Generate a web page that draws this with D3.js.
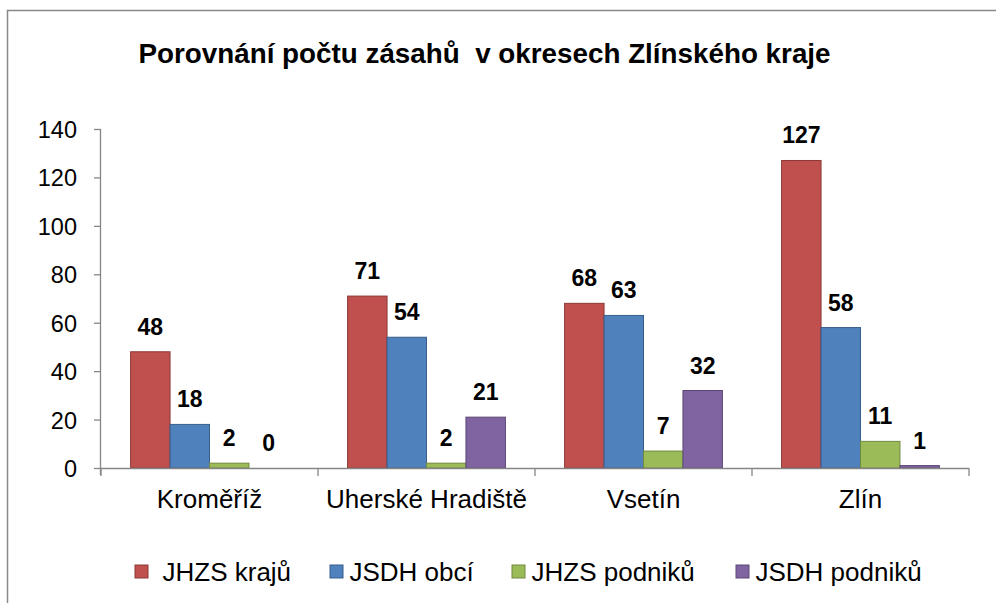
<!DOCTYPE html>
<html><head><meta charset="utf-8">
<script src="https://cdn.jsdelivr.net/npm/d3@7"></script>
<style>body{margin:0;background:#fff}svg{display:block}text{font-family:"Liberation Sans",Arial,sans-serif}</style>
</head><body>
<svg id="c" width="996" height="603"></svg>
<script>
const categories = ["Kroměříž", "Uherské Hradiště", "Vsetín", "Zlín"];
const seriesNames = ["JHZS krajů", "JSDH obcí", "JHZS podniků", "JSDH podniků"];
const jhzsKraju = [48, 71, 68, 127];
const jsdhObci = [18, 54, 63, 58];
const jhzsPodniku = [2, 2, 7, 11];
const jsdhPodniku = [0, 21, 32, 1];
const yTicks = [0, 20, 40, 60, 80, 100, 120, 140];
const fills = ["#C0504D", "#4F81BD", "#9BBB59", "#8064A2"];
const strokes = ["#8C3836", "#385E8B", "#71893F", "#5C4776"];
const title = "Porovnání počtu zásahů  v okresech Zlínského kraje";

const series = [jhzsKraju, jsdhObci, jhzsPodniku, jsdhPodniku];
const svg = d3.select("#c");
const FF = "'Liberation Sans', Arial, sans-serif";

// outer frame
svg.append("rect").attr("x", 7.5).attr("y", 10.5).attr("width", 1200).attr("height", 800)
  .attr("fill", "none").attr("stroke", "#898989").attr("stroke-width", 1.5);

const L = 101, R = 969, T = 129, B = 468;
const x = d3.scaleBand().domain(categories).range([L, R]).padding(0);
const y = d3.scaleLinear().domain([0, 140]).range([B, T]);
const bw = x.bandwidth() / 5.5;
const xs = d3.scaleBand().domain(d3.range(4)).range([0.75 * bw, 4.75 * bw]).padding(0);

svg.append("text").attr("x", 484.5).attr("y", 63).attr("text-anchor", "middle")
  .attr("font-size", 27.8).attr("font-weight", "bold").attr("fill", "#000")
  .style("white-space", "pre").attr("xml:space", "preserve").text(title);

// y axis
const ya = svg.append("g").attr("transform", `translate(${L},0)`)
  .call(d3.axisLeft(y).tickValues(yTicks).tickSize(7).tickPadding(17).tickFormat(d3.format("d")));
ya.select(".domain").attr("stroke", "#868686").attr("stroke-width", 1.3).attr("d", `M-0.5,${B + 7}V${T}`);
ya.selectAll(".tick line").attr("stroke", "#868686").attr("stroke-width", 1.3);
ya.selectAll(".tick text").attr("font-size", 23.5).attr("fill", "#000").attr("font-family", FF)
  .attr("dy", "0.36em");

// bars
categories.forEach((c, ci) => {
  series.forEach((s, si) => {
    const v = s[ci];
    const bx = x(c) + xs(si);
    svg.append("rect").attr("x", bx).attr("y", y(v)).attr("width", xs.bandwidth())
      .attr("height", B - y(v)).attr("fill", fills[si]).attr("stroke", strokes[si]).attr("stroke-width", 1);
    svg.append("text").attr("x", bx + xs.bandwidth() / 2).attr("y", y(v) - 17)
      .attr("text-anchor", "middle").attr("font-size", 23).attr("font-weight", "bold")
      .attr("fill", "#000").text(v);
  });
});

// x axis
const xa = svg.append("g").attr("transform", `translate(0,${B})`)
  .call(d3.axisBottom(x).tickSize(0));
xa.select(".domain").attr("stroke", "#868686").attr("stroke-width", 1.3).attr("d", `M${L},0.5H${R}`);
xa.selectAll(".tick text").attr("font-size", 26).attr("fill", "#000").attr("font-family", FF)
  .attr("y", 40).attr("dy", 0);
const bounds = x.domain().map(d => x(d)).concat([R]);
xa.selectAll(".sep").data(bounds).enter().append("line").attr("class", "sep")
  .attr("x1", d => d).attr("x2", d => d).attr("y1", 0).attr("y2", 8)
  .attr("stroke", "#868686").attr("stroke-width", 1.3);

// legend
const legX = [135, 330, 512, 736];
const lg = svg.append("g");
seriesNames.forEach((n, i) => {
  lg.append("rect").attr("x", legX[i]).attr("y", 565).attr("width", 13).attr("height", 13)
    .attr("fill", fills[i]).attr("stroke", strokes[i]).attr("stroke-width", 1);
  lg.append("text").attr("x", legX[i] + (i === 0 ? 27.5 : 19.5)).attr("y", 581)
    .attr("font-size", 26).attr("fill", "#000").text(n);
});
</script>
</body></html>
